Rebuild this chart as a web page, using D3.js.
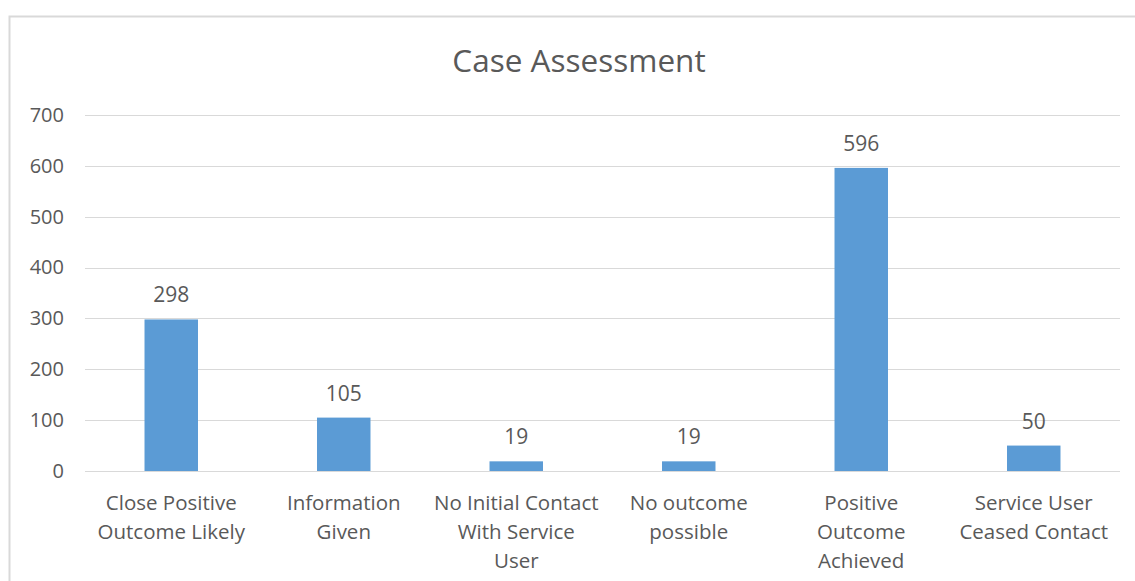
<!DOCTYPE html>
<html><head><meta charset="utf-8">
<script src="https://cdn.jsdelivr.net/npm/d3@7"></script>
<style>body{margin:0;background:#fff;} svg{display:block;}</style>
</head><body>
<svg id="chart" width="1135" height="581"></svg>
<script>
const categories = [
  ["Close Positive", "Outcome Likely"],
  ["Information", "Given"],
  ["No Initial Contact", "With Service", "User"],
  ["No outcome", "possible"],
  ["Positive", "Outcome", "Achieved"],
  ["Service User", "Ceased Contact"]
];
const values = [298, 105, 19, 19, 596, 50];
const yTicks = [0, 100, 200, 300, 400, 500, 600, 700];
const title = "Case Assessment";

const svg = d3.select("#chart");
const font = "'Open Sans', Lato, sans-serif";
const textColor = "#595959";

// outer frame
svg.append("rect").attr("x", 9.5).attr("y", 16.5).attr("width", 1140).attr("height", 600)
  .attr("fill", "#fff").attr("stroke", "#d9d9d9").attr("stroke-width", 2);

const pLeft = 85, pRight = 1120, pTop = 115, pBottom = 471;
const x = d3.scaleBand().domain(d3.range(values.length)).range([pLeft, pRight]).paddingInner(0.69).paddingOuter(0.345);
const y = d3.scaleLinear().domain([0, 700]).range([pBottom, pTop]);

// gridlines
svg.append("g").selectAll("line").data(yTicks).join("line")
  .attr("x1", pLeft).attr("x2", pRight)
  .attr("y1", d => Math.round(y(d)) + 0.5).attr("y2", d => Math.round(y(d)) + 0.5)
  .attr("stroke", "#d9d9d9").attr("stroke-width", 1);

// y axis labels
const yAxis = d3.axisLeft(y).tickValues(yTicks).tickSize(0).tickPadding(0);
const yg = svg.append("g").attr("transform", `translate(64,0)`).call(yAxis);
yg.select(".domain").remove();
yg.selectAll("text").attr("font-family", font).attr("font-size", 20).attr("fill", textColor);

// bars
svg.append("g").selectAll("rect").data(values).join("rect")
  .attr("x", (d, i) => x(i)).attr("width", x.bandwidth())
  .attr("y", d => y(d)).attr("height", d => y(0) - y(d))
  .attr("fill", "#5b9bd5");

// value labels
svg.append("g").selectAll("text").data(values).join("text")
  .attr("x", (d, i) => x(i) + x.bandwidth() / 2)
  .attr("y", d => y(d) - 17)
  .attr("text-anchor", "middle")
  .attr("font-family", font).attr("font-size", 21).attr("fill", textColor)
  .text(d => d);

// category labels
const cg = svg.append("g");
categories.forEach((lines, i) => {
  const t = cg.append("text").attr("text-anchor", "middle")
    .attr("font-family", font).attr("font-size", 20.5).attr("fill", textColor);
  lines.forEach((ln, j) => {
    t.append("tspan").attr("x", x(i) + x.bandwidth() / 2).attr("y", 510 + j * 29).text(ln);
  });
});

// title
svg.append("text").attr("x", 579).attr("y", 72).attr("text-anchor", "middle")
  .attr("font-family", font).attr("font-size", 31.5).attr("fill", textColor).text(title);
</script>
</body></html>
